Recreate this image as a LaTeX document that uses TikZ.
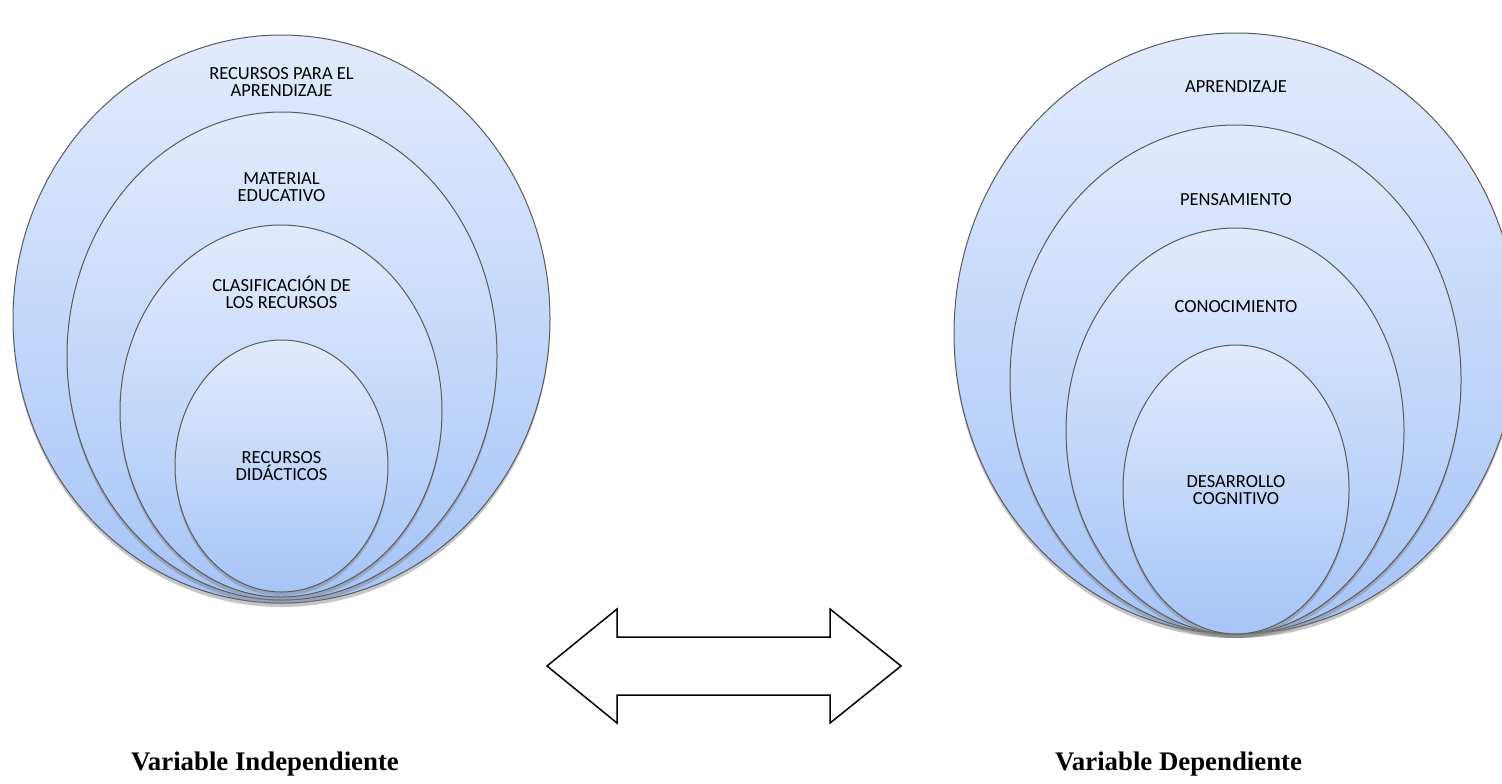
\documentclass[tikz,border=0pt]{standalone}
\usepackage{fontspec}
\setmainfont{Liberation Serif}
\newfontfamily\calibri{Carlito}
\usetikzlibrary{shapes.geometric, shadows, positioning}
\definecolor{ringtop}{RGB}{226,235,253}
\definecolor{ringbot}{RGB}{166,196,247}
\definecolor{ringline}{RGB}{90,90,90}

\begin{document}
\begin{tikzpicture}[x=0.5pt, y=-0.5pt,
	ring/.style={ellipse, draw=ringline, line width=0.5pt, inner sep=0pt,
		top color=ringtop, bottom color=ringbot,
		drop shadow={shadow xshift=0pt, shadow yshift=-2pt, opacity=0.45}},
	word/.style={font=\calibri\fontsize{9.25}{8.5}\selectfont, align=center, anchor=base},
	varlabel/.style={font=\bfseries\fontsize{13.4}{16}\selectfont, anchor=base west}]

	\useasboundingbox (0,0) rectangle (1502,783);

	\node[ring, minimum width=268.5pt, minimum height=284pt] at (281.5, 319) (RA){};
	\node[ring, minimum width=215pt, minimum height=244pt] at (282, 356) (RB){};
	\node[ring, minimum width=161pt, minimum height=186pt] at (281, 411) (RC){};
	\node[ring, minimum width=106.5pt, minimum height=126pt] at (281.5, 466) (RD){};
	\node[word] at (281.5, 96) (RAt){RECURSOS PARA EL\\APRENDIZAJE};
	\node[word] at (281.5, 201) (RBt){MATERIAL\\EDUCATIVO};
	\node[word] at (281.5, 308) (RCt){CLASIFICACIÓN DE\\LOS RECURSOS};
	\node[word] at (281.5, 480) (RDt){RECURSOS\\DIDÁCTICOS};

	\node[ring, minimum width=282pt, minimum height=300.5pt] at (1236, 333.5) (DA){};
	\node[ring, minimum width=225.5pt, minimum height=254.5pt] at (1235.5, 379.5) (DB){};
	\node[ring, minimum width=169pt, minimum height=203pt] at (1235, 431) (DC){};
	\node[ring, minimum width=113pt, minimum height=144.5pt] at (1236, 489.5) (DD){};
	\node[word] at (1236, 92) (DAt){APRENDIZAJE};
	\node[word] at (1236, 205) (DBt){PENSAMIENTO};
	\node[word] at (1236, 312) (DCt){CONOCIMIENTO};
	\node[word] at (1236, 504) (DDt){DESARROLLO\\COGNITIVO};

	\draw[line width=0.75pt, line join=miter] (547, 666) -- (617, 609) -- (617, 637)
		-- (830, 637) -- (830, 609) -- (901, 666) -- (830, 723) -- (830, 695)
		-- (617, 695) -- (617, 723) -- cycle;

	\node[varlabel] at (124, 770) (VI){Variable Independiente};
	\node[varlabel] at (1048, 770) (VD){Variable Dependiente};
\end{tikzpicture}
\end{document}
